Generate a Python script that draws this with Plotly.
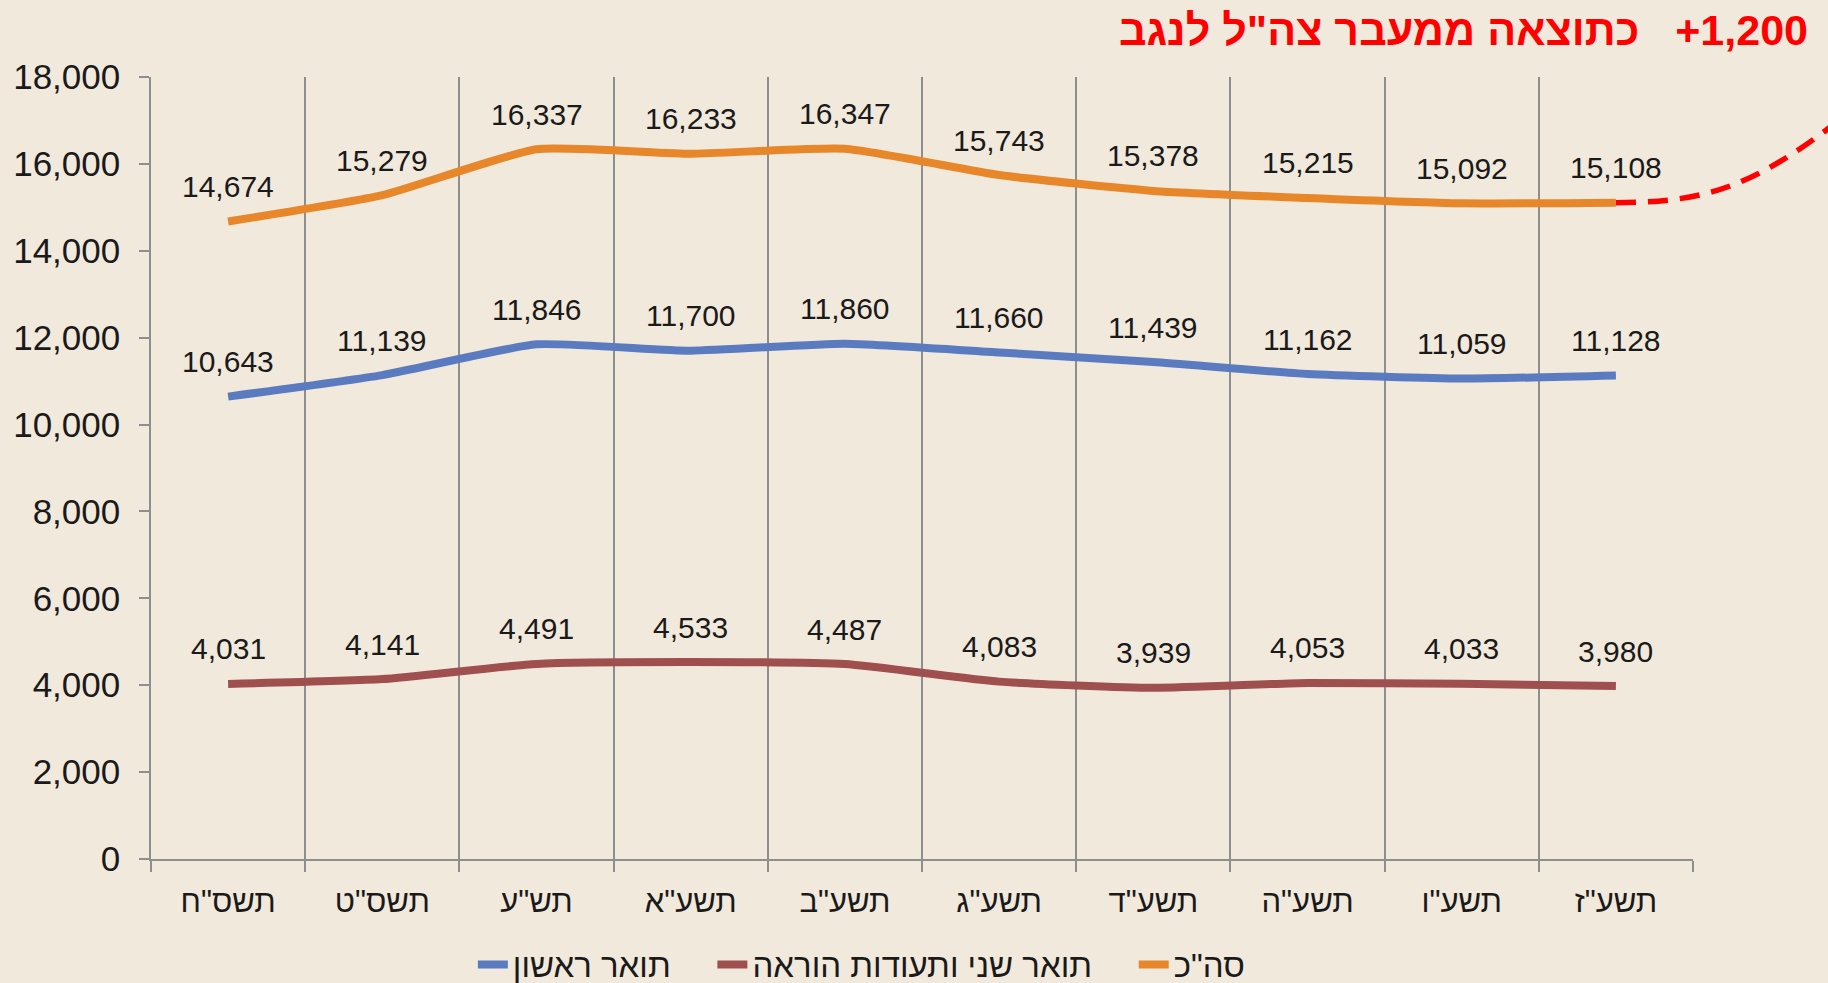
import plotly.graph_objects as go

categories = ['תשס"ח', 'תשס"ט', 'תש"ע', 'תשע"א', 'תשע"ב', 'תשע"ג', 'תשע"ד', 'תשע"ה', 'תשע"ו', 'תשע"ז']
first_degree = [10643, 11139, 11846, 11700, 11860, 11660, 11439, 11162, 11059, 11128]
second_degree = [4031, 4141, 4491, 4533, 4487, 4083, 3939, 4053, 4033, 3980]
total = [14674, 15279, 16337, 16233, 16347, 15743, 15378, 15215, 15092, 15108]
series_names = ["תואר ראשון", "תואר שני ותעודות הוראה", 'סה"כ']
series_colors = ["#5B7BC1", "#A04F4F", "#E8862A"]
title_text = 'כתוצאה ממעבר צה"ל לנגב   \u200e+1,200'
y_ticks = list(range(0, 18001, 2000))
Y_MAX = 18000

BG = "#F1E9DB"
GRID = "#8E8E8E"
xs = list(range(len(categories)))
PAD = "\u00a0\u00a0\u00a0\u00a0"

fig = go.Figure()
for i, (name, vals, col) in enumerate(zip(series_names, [first_degree, second_degree, total], series_colors)):
    fig.add_trace(go.Scatter(
        x=xs, y=vals, mode="lines", name=name + (PAD if i < len(series_names) - 1 else ""),
        line=dict(color=col, width=8, shape="spline", smoothing=0.5),
        hoverinfo="skip",
    ))
    for xi, v in zip(xs, vals):
        fig.add_annotation(x=xi, y=v, text=f"{v:,}", showarrow=False,
                           yshift=35, yanchor="middle", xanchor="center",
                           font=dict(size=30, color="#1A1A1A",
                                     family="Liberation Sans, Arial, sans-serif"))

# projected dashed continuation (paper coords derived from data mapping)
n = len(categories)
def px(xv):
    return (xv + 0.5) / n
def py(v):
    return v / Y_MAX
last = total[-1]
path = (f"M {px(n - 1)},{py(last)} C {px(n - 0.4)},{py(last)} "
        f"{px(n - 0.1)},{py(last + 400)} {px(n + 0.45)},{py(last + 1900)}")
fig.add_shape(type="path", path=path, xref="paper", yref="paper",
              line=dict(color="#FF0000", width=5.5, dash="20px,12px"))

fig.add_annotation(text=title_text, xref="paper", yref="paper",
                   x=(1810 - 151) / 1542, y=(859 - 30) / 782,
                   xanchor="right", yanchor="middle", showarrow=False,
                   font=dict(size=43, color="#FF0000",
                             family="Liberation Sans, Arial, sans-serif", weight="bold"))

fig.update_layout(
    width=1828, height=983,
    paper_bgcolor=BG, plot_bgcolor=BG,
    margin=dict(l=151, r=135, t=77, b=124, autoexpand=False),
    font=dict(family="Liberation Sans, Arial, DejaVu Sans, sans-serif", color="#1A1A1A"),
    showlegend=True,
    legend=dict(orientation="h", x=0.461, xanchor="center", y=-0.135, yanchor="middle",
                font=dict(size=33, color="#1A1A1A"), bgcolor="rgba(0,0,0,0)",
                itemwidth=30, tracegroupgap=0),
)
fig.update_xaxes(
    range=[-0.5, n - 0.5], tickmode="array", tickvals=xs, ticktext=categories,
    ticks="", showgrid=False, zeroline=False,
    showline=True, linecolor=GRID, linewidth=1.5,
    tickfont=dict(size=31, color="#1A1A1A"), ticklabelstandoff=14,
    minor=dict(tick0=-0.5, dtick=1, ticks="outside", ticklen=11, tickcolor=GRID,
               tickwidth=1.5, showgrid=True, gridcolor=GRID, gridwidth=1.5),
)
fig.update_yaxes(
    range=[0, Y_MAX], tickmode="array", tickvals=y_ticks, tickformat=",",
    showgrid=False, zeroline=False, showline=True, linecolor=GRID, linewidth=1.5,
    ticks="outside", ticklen=10, tickcolor=GRID, tickwidth=1.5,
    tickfont=dict(size=35, color="#1A1A1A"), ticklabelstandoff=12,
)

fig.write_html("out.html", config={"displayModeBar": False},
               post_script="document.body.style.margin='0';")
